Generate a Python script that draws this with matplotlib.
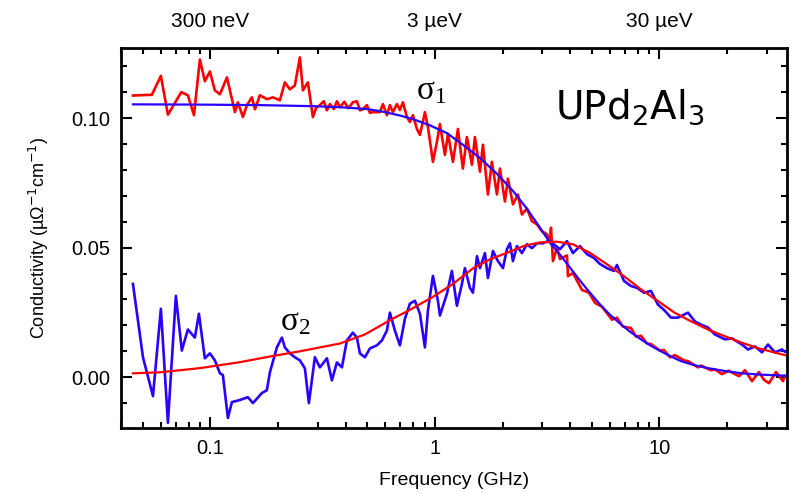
import numpy as np
import matplotlib
matplotlib.use("Agg")
from matplotlib import pyplot as plt
from matplotlib.ticker import FixedLocator, MultipleLocator, LogLocator, NullFormatter

plt.rcParams['font.family'] = ['Liberation Sans', 'DejaVu Sans']

# sigma_1 measured (red), frequency in GHz, conductivity in (muOhm cm)^-1
f_s1 = [0.0452, 0.0549, 0.0602, 0.0647, 0.0742, 0.0794, 0.0845, 0.0898, 0.0945, 0.0995,
        0.1047, 0.1103, 0.1185, 0.1286, 0.1326, 0.1396, 0.1454, 0.1531, 0.1579, 0.1662,
        0.1785, 0.1899, 0.2040, 0.2147, 0.2259, 0.2378, 0.2504, 0.2583, 0.2718, 0.2861,
        0.2960, 0.3074, 0.3200, 0.3304, 0.3406, 0.3550, 0.3660, 0.3775, 0.3950, 0.4120,
        0.4312, 0.4493, 0.4634, 0.4779, 0.4978, 0.5135, 0.5295, 0.5689, 0.5867, 0.6111,
        0.6302, 0.6499, 0.6771, 0.6984, 0.7203, 0.7505, 0.7739, 0.7981, 0.8315, 0.8574,
        0.9026, 0.9307, 0.9797, 1.0207, 1.0526, 1.108, 1.143, 1.203, 1.266, 1.332,
        1.388, 1.462, 1.507, 1.587, 1.636, 1.722, 1.794, 1.889, 1.948, 2.050,
        2.114, 2.226, 2.343, 2.440, 2.570, 2.704, 2.847, 2.996, 3.155, 3.253,
        3.287, 3.355, 3.495, 3.605, 3.873, 3.912, 4.118, 4.517, 4.853, 5.161,
        5.546, 6.143, 6.466, 6.877, 7.464, 7.857, 8.274, 8.797, 9.165, 10.05,
        10.47, 11.14, 11.72, 12.86, 13.40, 14.84, 15.30, 16.96, 17.67, 18.98,
        20.30, 22.61, 24.03, 25.82, 27.75, 29.20, 30.74, 33.03, 35.49, 36.22]
s1 = [0.1087, 0.1090, 0.1163, 0.1013, 0.1100, 0.1088, 0.1011, 0.1226, 0.1142, 0.1180,
      0.1107, 0.1092, 0.1157, 0.1023, 0.1061, 0.1004, 0.1050, 0.1080, 0.1034, 0.1088,
      0.1073, 0.1080, 0.1069, 0.1138, 0.1111, 0.1126, 0.1234, 0.1107, 0.1138, 0.1004,
      0.1040, 0.1050, 0.1065, 0.1030, 0.1054, 0.1035, 0.1065, 0.1042, 0.1063, 0.1038,
      0.1061, 0.1065, 0.1030, 0.1034, 0.1050, 0.1020, 0.1023, 0.1023, 0.1054, 0.1011,
      0.1050, 0.1023, 0.1054, 0.1031, 0.1061, 0.1004, 0.0985, 0.1011, 0.0958, 0.0935,
      0.1023, 0.0966, 0.0831, 0.0908, 0.0977, 0.0858, 0.0939, 0.0831, 0.0958, 0.0805,
      0.0927, 0.0820, 0.0927, 0.0793, 0.0897, 0.0705, 0.0831, 0.0705, 0.0805, 0.0678,
      0.0766, 0.0667, 0.0705, 0.0628, 0.0651, 0.0602, 0.0590, 0.0563, 0.0552, 0.0525,
      0.0577, 0.0448, 0.0500, 0.0456, 0.0470, 0.0390, 0.0402, 0.0337, 0.0326, 0.0287,
      0.0272, 0.0222, 0.0230, 0.0195, 0.0190, 0.0157, 0.0160, 0.0130, 0.0128, 0.0103,
      0.0105, 0.0077, 0.0085, 0.0065, 0.0062, 0.0038, 0.0045, 0.0027, 0.0030, 0.0012,
      0.0025, 0.0004, 0.0027, -0.0015, 0.0020, -0.0010, -0.0023, 0.0020, -0.0015, 0.0005]

# sigma_2 measured (blue)
f_s2 = [0.0452, 0.0501, 0.0555, 0.0602, 0.0647, 0.0702, 0.0746, 0.0794, 0.0853, 0.0889,
        0.0945, 0.0995, 0.1047, 0.1103, 0.1137, 0.1197, 0.1247, 0.1353, 0.1469, 0.1547,
        0.1696, 0.1785, 0.1841, 0.1978, 0.2082, 0.2147, 0.2259, 0.2378, 0.2504, 0.2636,
        0.2746, 0.2920, 0.3074, 0.3304, 0.3477, 0.3660, 0.3853, 0.4055, 0.4312, 0.4493,
        0.4634, 0.4879, 0.5135, 0.5516, 0.5807, 0.6111, 0.6302, 0.6634, 0.6984, 0.7353,
        0.7739, 0.8146, 0.8574, 0.9026, 0.9307, 0.9797, 1.0313, 1.0526, 1.131, 1.190,
        1.253, 1.319, 1.360, 1.432, 1.477, 1.539, 1.587, 1.670, 1.722, 1.813,
        1.908, 2.009, 2.093, 2.158, 2.226, 2.319, 2.440, 2.570, 2.704, 2.847,
        3.027, 3.187, 3.253, 3.605, 3.873, 4.118, 4.425, 4.755, 5.109, 5.433,
        5.836, 6.271, 6.466, 6.948, 7.464, 7.938, 8.531, 9.165, 9.847, 10.47,
        11.25, 12.09, 13.40, 14.39, 15.30, 16.44, 17.67, 19.57, 21.03, 23.31,
        24.79, 26.63, 28.62, 30.43, 32.70, 35.13, 36.22]
s2 = [0.0360, 0.0077, -0.0073, 0.0264, -0.0176, 0.0314, 0.0103, 0.0184, 0.0153, 0.0245,
      0.0073, 0.0092, 0.0065, 0.0015, 0.0008, -0.0157, -0.0096, -0.0088, -0.0077, -0.0100,
      -0.0061, -0.0050, 0.0019, 0.0115, 0.0153, 0.0115, 0.0092, 0.0077, 0.0065, 0.0034,
      -0.0100, 0.0077, 0.0038, 0.0073, -0.0012, 0.0057, 0.0038, 0.0142, 0.0172, 0.0153,
      0.0092, 0.0077, 0.0111, 0.0123, 0.0142, 0.0180, 0.0249, 0.0180, 0.0123, 0.0226,
      0.0284, 0.0295, 0.0245, 0.0115, 0.0257, 0.0391, 0.0295, 0.0238, 0.0322, 0.0410,
      0.0276, 0.0360, 0.0421, 0.0345, 0.0326, 0.0467, 0.0421, 0.0479, 0.0383, 0.0487,
      0.0448, 0.0421, 0.0494, 0.0517, 0.0448, 0.0506, 0.0479, 0.0513, 0.0498, 0.0517,
      0.0517, 0.0525, 0.0525, 0.0494, 0.0525, 0.0479, 0.0506, 0.0475, 0.0460, 0.0437,
      0.0421, 0.0410, 0.0433, 0.0372, 0.0352, 0.0345, 0.0326, 0.0333, 0.0280, 0.0260,
      0.0230, 0.0230, 0.0249, 0.0215, 0.0203, 0.0192, 0.0165, 0.0146, 0.0150, 0.0126,
      0.0107, 0.0119, 0.0096, 0.0126, 0.0096, 0.0107, 0.0098]

# Drude fits as drawn
f_fit1 = [0.0452, 0.0898, 0.1662, 0.2861, 0.3775, 0.4978, 0.5689, 0.6984, 0.7981, 0.9500,
          1.131, 1.332, 1.587, 1.889, 2.226, 2.570, 2.936, 3.253, 3.605, 3.995,
          4.425, 4.903, 5.433, 6.019, 6.738, 7.464, 8.274, 9.165, 10.15, 11.25,
          12.47, 14.39, 16.44, 19.57, 23.31, 28.04, 36.22]
fit1 = [0.1053, 0.1052, 0.1050, 0.1046, 0.1042, 0.1035, 0.1027, 0.1010, 0.0996, 0.0972,
        0.0942, 0.0897, 0.0846, 0.0785, 0.0719, 0.0650, 0.0577, 0.0519, 0.0473, 0.0423,
        0.0373, 0.0326, 0.0281, 0.0241, 0.0204, 0.0173, 0.0146, 0.0121, 0.0100, 0.0080,
        0.0062, 0.0046, 0.0035, 0.0024, 0.0015, 0.0010, 0.0006]

f_fit2 = [0.0452, 0.0596, 0.0898, 0.1353, 0.1899, 0.2504, 0.3775, 0.4879, 0.6302, 0.7739,
          0.9797, 1.203, 1.477, 1.758, 2.093, 2.517, 2.936, 3.495, 4.118, 4.903,
          5.836, 6.948, 8.274, 9.847, 11.72, 13.81, 16.44, 19.57, 23.31, 27.47, 36.22]
fit2 = [0.0015, 0.0019, 0.0035, 0.0058, 0.0082, 0.0100, 0.0130, 0.0165, 0.0220, 0.0260,
        0.0310, 0.0360, 0.0420, 0.0455, 0.0480, 0.0508, 0.0520, 0.0523, 0.0513, 0.0480,
        0.0436, 0.0390, 0.0339, 0.0294, 0.0248, 0.0216, 0.0184, 0.0158, 0.0133, 0.0112, 0.0085]

fig = plt.figure(figsize=(7.91, 4.94), dpi=100)
ax = fig.add_axes([0.153, 0.1336, 0.842, 0.769])

red = '#ff0000'
blue = '#2a00ff'
ax.plot(f_s1, s1, color=red, lw=1.9)
ax.plot(f_s2, s2, color=blue, lw=1.9)
ax.plot(f_fit1, fit1, color=blue, lw=1.6)
ax.plot(f_fit2, fit2, color=red, lw=1.6)

ax.set_xscale('log')
ax.set_xlim(0.04, 37)
ax.set_ylim(-0.0196, 0.127)

ax.xaxis.set_major_locator(FixedLocator([0.1, 1, 10]))
ax.set_xticklabels(['0.1', '1', '10'])
ax.xaxis.set_minor_locator(LogLocator(base=10, subs=np.arange(2, 10)))
ax.xaxis.set_minor_formatter(NullFormatter())
ax.yaxis.set_major_locator(MultipleLocator(0.05))
ax.yaxis.set_minor_locator(MultipleLocator(0.01))
ax.set_yticks([0.0, 0.05, 0.10])
ax.set_yticklabels(['0.00', '0.05', '0.10'])

ax.tick_params(which='both', direction='in', top=True, right=True, width=1.5,
               labelsize=14.5, colors='black')
ax.tick_params(which='major', length=8, pad=8)
ax.tick_params(which='minor', length=4)
for sp in ax.spines.values():
    sp.set_linewidth(2)

top = ax.secondary_xaxis('top')
top.set_xticks([0.1, 1, 10])
top.set_xticklabels(['300 neV', '3 \u00b5eV', '30 \u00b5eV'])
top.tick_params(length=0, labelsize=15, pad=12)
top.xaxis.set_minor_locator(FixedLocator([]))

ax.set_xlabel('Frequency (GHz)', fontsize=14, labelpad=10)
ax.set_ylabel('Conductivity (\u00b5\u03a9$^{-1}$cm$^{-1}$)', fontsize=13, labelpad=14)

# sigma labels: upright serif sigma with subscript
ax.text(0.96, 0.1105, r'$\mathregular{\sigma_1}$', fontsize=24, ha='center', va='center',
        family=['Liberation Serif'])
ax.text(0.24, 0.0215, r'$\mathregular{\sigma_2}$', fontsize=24, ha='center', va='center',
        family=['Liberation Serif'])

ax.text(0.651, 0.845, r'UPd$_2$Al$_3$', transform=ax.transAxes, fontsize=28,
        ha='left', va='center', family=['DejaVu Sans'])

fig.savefig('out.png', dpi=100)
